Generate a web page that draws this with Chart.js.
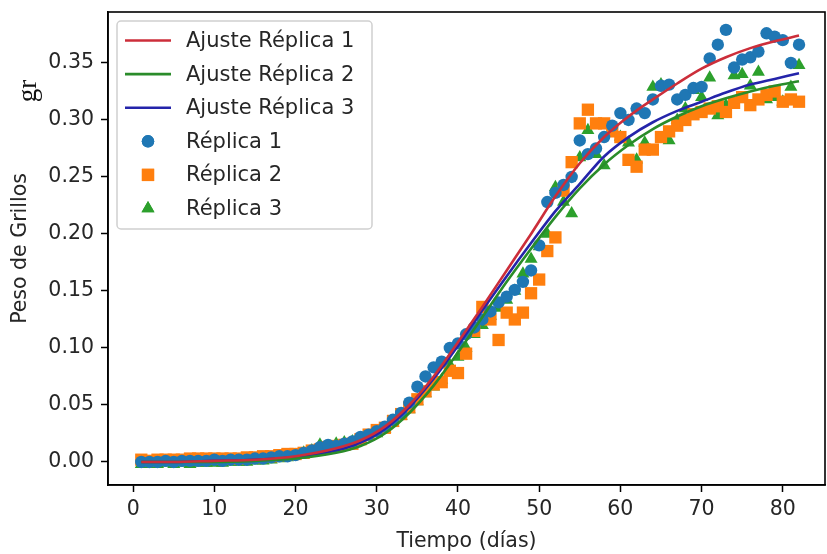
<!DOCTYPE html>
<html>
<head>
<meta charset="utf-8">
<title>Peso de Grillos</title>
<script src="https://cdn.jsdelivr.net/npm/chart.js@4.4.0/dist/chart.umd.min.js"></script>
<style>
  html, body { margin: 0; padding: 0; background: #fff; }
  #wrap { width: 827px; height: 554px; }
</style>
</head>
<body>
<div id="wrap"><canvas id="grillos" width="827" height="554"></canvas></div>
<script>
// días de medición
const dias = [
  1, 2, 3, 4, 5, 6, 7, 8, 9, 10, 11, 12, 13, 14, 15, 16, 17, 18, 19, 20,
  21, 22, 23, 24, 25, 26, 27, 28, 29, 30, 31, 32, 33, 34, 35, 36, 37, 38, 39, 40,
  41, 42, 43, 44, 45, 46, 47, 48, 49, 50, 51, 52, 53, 54, 55, 56, 57, 58, 59, 60,
  61, 62, 63, 64, 65, 66, 67, 68, 69, 70, 71, 72, 73, 74, 75, 76, 77, 78, 79, 80,
  81, 82
];

// peso medido (gr) por réplica
const replica1 = [
  0.000, 0.000, 0.000, 0.001, 0.000, 0.001, 0.001, 0.001, 0.001, 0.002,
  0.001, 0.002, 0.002, 0.002, 0.003, 0.003, 0.004, 0.005, 0.005, 0.006,
  0.008, 0.010, 0.013, 0.015, 0.014, 0.016, 0.018, 0.022, 0.024, 0.027,
  0.031, 0.037, 0.043, 0.052, 0.066, 0.075, 0.083, 0.088, 0.100, 0.104,
  0.112, 0.118, 0.125, 0.132, 0.140, 0.145, 0.151, 0.158, 0.168, 0.190,
  0.228, 0.236, 0.243, 0.250, 0.282, 0.270, 0.275, 0.285, 0.295, 0.306,
  0.300, 0.310, 0.306, 0.318, 0.330, 0.331, 0.318, 0.322, 0.328, 0.329,
  0.354, 0.366, 0.379, 0.346, 0.353, 0.355, 0.360, 0.376, 0.373, 0.370,
  0.350, 0.366
];
const replica2 = [
  0.002, 0.001, 0.002, 0.002, 0.002, 0.002, 0.003, 0.003, 0.003, 0.003,
  0.003, 0.003, 0.003, 0.004, 0.004, 0.005, 0.005, 0.006, 0.007, 0.007,
  0.008, 0.010, 0.011, 0.013, 0.014, 0.015, 0.016, 0.020, 0.024, 0.028,
  0.030, 0.036, 0.042, 0.048, 0.055, 0.062, 0.068, 0.070, 0.080, 0.078,
  0.095, 0.115, 0.136, 0.125, 0.107, 0.131, 0.125, 0.131, 0.148, 0.160,
  0.185, 0.197, 0.238, 0.263, 0.297, 0.309, 0.297, 0.297, 0.290, 0.285,
  0.265, 0.259, 0.274, 0.274, 0.285, 0.290, 0.295, 0.300, 0.305, 0.307,
  0.310, 0.312, 0.307, 0.315, 0.320, 0.313, 0.318, 0.322, 0.325, 0.316,
  0.318, 0.316
];
const replica3 = [
  -0.002, -0.002, -0.002, -0.001, -0.002, -0.001, -0.002, -0.001, -0.001, -0.001,
  -0.001, 0.000, 0.000, 0.000, 0.001, 0.001, 0.002, 0.003, 0.004, 0.006,
  0.008, 0.010, 0.015, 0.012, 0.016, 0.017, 0.018, 0.020, 0.022, 0.025,
  0.029, 0.034, 0.040, 0.046, 0.053, 0.060, 0.066, 0.072, 0.085, 0.092,
  0.100, 0.112, 0.120, 0.128, 0.135, 0.142, 0.150, 0.165, 0.178, 0.189,
  0.200, 0.241, 0.228, 0.218, 0.267, 0.291, 0.270, 0.260, 0.291, 0.285,
  0.280, 0.265, 0.280, 0.329, 0.331, 0.282, 0.300, 0.310, 0.326, 0.320,
  0.337, 0.304, 0.313, 0.339, 0.340, 0.330, 0.342, 0.318, 0.320, 0.316,
  0.329, 0.348
];

// curvas de ajuste, muestreadas en estos días
const diasAjuste = [1, 5, 10, 15, 20, 25, 28, 31, 34, 37, 40, 43, 46, 49, 52, 55, 58, 61, 64, 67, 70, 73, 76, 79, 82];
const ajuste1 = [0.000, 0.000, 0.001, 0.002, 0.005, 0.012, 0.019, 0.031, 0.050, 0.075, 0.105, 0.136, 0.168, 0.200, 0.233, 0.262, 0.285, 0.303, 0.318, 0.332, 0.345, 0.355, 0.363, 0.369, 0.374];
const ajuste2 = [0.000, 0.000, 0.000, 0.001, 0.003, 0.008, 0.014, 0.025, 0.043, 0.067, 0.096, 0.127, 0.158, 0.187, 0.215, 0.240, 0.261, 0.278, 0.292, 0.303, 0.312, 0.319, 0.325, 0.330, 0.334];
const ajuste3 = [0.000, 0.000, 0.001, 0.002, 0.004, 0.010, 0.017, 0.029, 0.048, 0.073, 0.102, 0.133, 0.163, 0.192, 0.220, 0.244, 0.268, 0.285, 0.298, 0.308, 0.316, 0.324, 0.331, 0.336, 0.341];

const xTicks = [0, 10, 20, 30, 40, 50, 60, 70, 80];
const yTicks = [0.00, 0.05, 0.10, 0.15, 0.20, 0.25, 0.30, 0.35];

const FONT = 'DejaVu Sans';
const TXT = '#262626';

const pares = (xs, ys) => xs.map((x, i) => ({ x: x, y: ys[i] }));

function curva(label, ys, color) {
  return {
    label: label,
    data: pares(diasAjuste, ys),
    showLine: true,
    borderColor: color,
    backgroundColor: color,
    borderWidth: 2.6,
    pointRadius: 0,
    cubicInterpolationMode: 'monotone',
    fill: false
  };
}

function puntos(label, ys, color, style, r) {
  return {
    label: label,
    data: pares(dias, ys),
    showLine: false,
    pointStyle: style,
    pointRadius: r,
    pointBackgroundColor: color,
    pointBorderColor: color,
    pointBorderWidth: 0,
    backgroundColor: color,
    borderColor: color
  };
}

// marco completo alrededor del área de datos
const marco = {
  id: 'marco',
  afterDraw(chart) {
    const { ctx, chartArea: a } = chart;
    ctx.save();
    ctx.strokeStyle = '#000';
    ctx.lineWidth = 1.6;
    ctx.strokeRect(a.left, a.top, a.right - a.left, a.bottom - a.top);
    ctx.restore();
  }
};

// leyenda dentro del gráfico, arriba a la izquierda
const leyenda = {
  id: 'leyenda',
  afterDatasetsDraw(chart) {
    const ctx = chart.ctx;
    const x0 = 117, y0 = 21, w = 255, h = 208, paso = 33.6;
    ctx.save();
    ctx.fillStyle = 'rgba(255,255,255,0.8)';
    ctx.strokeStyle = '#d0d0d0';
    ctx.lineWidth = 1.5;
    ctx.beginPath();
    ctx.roundRect(x0, y0, w, h, 4);
    ctx.fill();
    ctx.stroke();
    ctx.font = '21px "' + FONT + '"';
    ctx.textBaseline = 'middle';
    ctx.fillStyle = TXT;
    chart.data.datasets.forEach((ds, i) => {
      const cy = y0 + 19.5 + i * paso;
      if (ds.showLine) {
        ctx.strokeStyle = ds.borderColor;
        ctx.lineWidth = ds.borderWidth;
        ctx.beginPath();
        ctx.moveTo(x0 + 8, cy);
        ctx.lineTo(x0 + 54, cy);
        ctx.stroke();
      } else {
        ctx.fillStyle = ds.pointBackgroundColor;
        Chart.helpers.drawPoint(ctx, { pointStyle: ds.pointStyle, radius: ds.pointRadius, rotation: 0, borderWidth: 0 }, x0 + 31, cy);
        ctx.fill();
      }
      ctx.fillStyle = TXT;
      ctx.fillText(ds.label, x0 + 69, cy + 1);
    });
    ctx.restore();
  }
};

// unidad escrita junto al eje vertical
const unidad = {
  id: 'unidad',
  afterDraw(chart) {
    const ctx = chart.ctx;
    ctx.save();
    ctx.translate(29, 91);
    ctx.rotate(-Math.PI / 2);
    ctx.font = '27px "Liberation Serif"';
    ctx.fillStyle = '#111';
    ctx.textAlign = 'center';
    ctx.textBaseline = 'middle';
    ctx.fillText('gr', 0, 0);
    ctx.restore();
  }
};

const ejeComun = {
  type: 'linear',
  grid: { drawOnChartArea: false, drawTicks: true, tickLength: 7, tickColor: '#000', tickWidth: 1.5 },
  border: { display: true, color: '#000', width: 1.6 }
};

new Chart(document.getElementById('grillos'), {
  type: 'scatter',
  data: {
    datasets: [
      curva('Ajuste Réplica 1', ajuste1, '#cc2e3a'),
      curva('Ajuste Réplica 2', ajuste2, '#2a8c2a'),
      curva('Ajuste Réplica 3', ajuste3, '#2424aa'),
      puntos('Réplica 1', replica1, '#1f77b4', 'circle', 6.2),
      puntos('Réplica 2', replica2, '#ff7f0e', 'rect', 8.7),
      puntos('Réplica 3', replica3, '#2ca02c', 'triangle', 7.5)
    ]
  },
  options: {
    responsive: false,
    animation: false,
    events: [],
    layout: { autoPadding: false, padding: { top: 12, right: 2, left: 0, bottom: 0 } },
    plugins: { legend: { display: false }, tooltip: { enabled: false } },
    scales: {
      x: Object.assign({}, ejeComun, {
        min: -3.1,
        max: 85.2,
        afterBuildTicks: s => { s.ticks = xTicks.map(v => ({ value: v })); },
        afterFit: s => { s.height = 69; s.paddingLeft = 0; s.paddingRight = 0; },
        ticks: { color: TXT, font: { family: FONT, size: 20.5 }, padding: 5, maxRotation: 0, callback: v => String(v) },
        title: { display: true, text: 'Tiempo (días)', color: TXT, font: { family: FONT, size: 20.5 }, padding: { top: 0, bottom: 0 } }
      }),
      y: Object.assign({}, ejeComun, {
        min: -0.0202,
        max: 0.3947,
        afterBuildTicks: s => { s.ticks = yTicks.map(v => ({ value: v })); },
        afterFit: s => { s.width = 108; s.paddingTop = 0; s.paddingBottom = 0; },
        ticks: { color: TXT, font: { family: FONT, size: 20.5 }, padding: 7, callback: v => v.toFixed(2) },
        title: { display: true, text: 'Peso de Grillos', color: TXT, font: { family: FONT, size: 20.5 }, padding: { top: 8, bottom: 0 } }
      })
    }
  },
  plugins: [marco, leyenda, unidad]
});
</script>
</body>
</html>
